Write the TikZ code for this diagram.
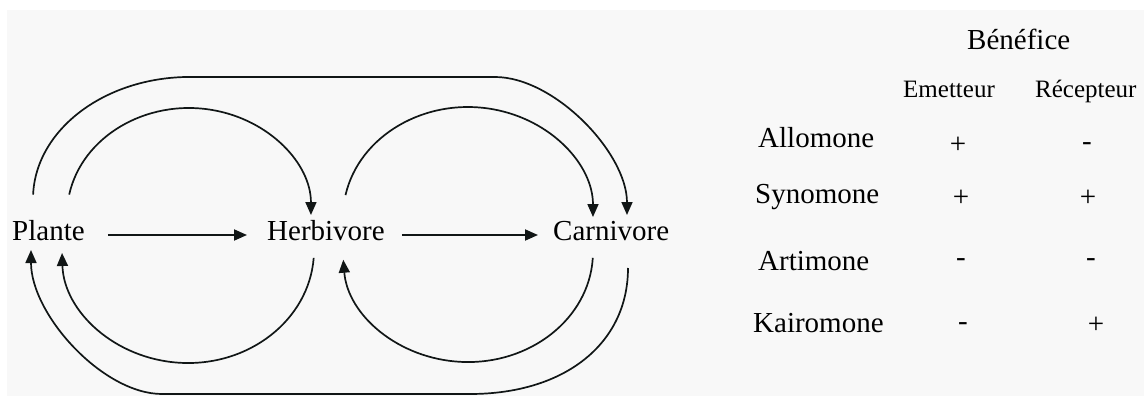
\documentclass[tikz,border=0pt]{standalone}
\usepackage{fontspec}
\setmainfont{Liberation Serif}
\usetikzlibrary{arrows.meta}
\definecolor{paper}{HTML}{F8F8F8}
\definecolor{ink}{HTML}{111616}
\begin{document}
\begin{tikzpicture}[x=1pt,y=-1pt,
  flow/.style={line width=1.9pt, draw=ink, -{Triangle[length=13pt,width=11pt]}},
  curve/.style={line width=1.7pt, draw=ink},
  organism/.style={anchor=base west, inner sep=0pt, text height=10pt, text depth=0pt,
    font=\fontsize{29}{32}\selectfont},
  rowlabel/.style={anchor=base west, inner sep=0pt, font=\fontsize{29}{32}\selectfont},
  colhead/.style={anchor=base west, inner sep=0pt, font=\fontsize{25}{28}\selectfont},
  sign/.style={inner sep=0pt, font=\fontsize{29}{32}\selectfont}]

% page and paper
\fill[white] (0,0) rectangle (1144,396);
\fill[paper] (7,10) rectangle (1144,396);
\useasboundingbox (0,0) rectangle (1144,396);

% trophic levels
\node[organism] (plante) at (12,240) {Plante};
\node[organism] (herb)   at (267,240) {Herbivore};
\node[organism] (carn)   at (553,240) {Carnivore};

\draw[flow, shorten <=23pt, shorten >=20pt] (plante) -- (herb);
\draw[flow, shorten <=17pt, shorten >=15pt] (herb) -- (carn);

% end points of the loops around the levels
\coordinate (pl-in-top)  at (69.2,194.6);
\coordinate (he-in-bot)  at (313.7,257.9);
\coordinate (he-in-top)  at (345.5,195.1);
\coordinate (ca-in-bot)  at (592.8,257.8);
\coordinate (pl-out-top) at (33.1,194.7);
\coordinate (ca-out-bot) at (628,268);

% plant <-> herbivore loops
\draw[flow, curve] (pl-in-top) arc[start angle=-169, end angle=0, x radius=122, y radius=107];
\draw[flow, curve] (he-in-bot) arc[start angle=4, end angle=178.5, x radius=126, y radius=113];

% herbivore <-> carnivore loops
\draw[flow, curve] (he-in-top) arc[start angle=-168.5, end angle=0, x radius=125, y radius=110];
\draw[flow, curve] (ca-in-bot) arc[start angle=3, end angle=176, x radius=125, y radius=110];

% plant <-> carnivore outer loops
\draw[flow, curve] (pl-out-top) arc[start angle=182, end angle=270, x radius=157, y radius=122]
  -- (495,77) .. controls (554.4,77) and (627,152.9) .. (627,215);
\draw[flow, curve] (ca-out-bot) .. controls (628,343.6) and (564.8,394) .. (470,394)
  -- (162,394) .. controls (103,394) and (31,314.8) .. (31,250);

% table of benefits
\node[rowlabel] (benefice) at (967,50) {Bénéfice};
\node[colhead]  (emetteur) at (903,97) {Emetteur};
\node[colhead]  (recepteur) at (1035,97) {Récepteur};

\node[rowlabel] (allomone)  at (758,147) {Allomone};
\node[rowlabel] (synomone)  at (755,203) {Synomone};
\node[rowlabel] (artimone)  at (758,270) {Artimone};
\node[rowlabel] (kairomone) at (753,332) {Kairomone};

\node[sign] (al-e) at (958,145) {+};
\node[sign] (al-r) at (1087,147) {-};
\node[sign] (sy-e) at (961,198) {+};
\node[sign] (sy-r) at (1088,198) {+};
\node[sign] (ar-e) at (961,263) {-};
\node[sign] (ar-r) at (1091,263) {-};
\node[sign] (ka-e) at (963,327) {-};
\node[sign] (ka-r) at (1096,325) {+};
\end{tikzpicture}
\end{document}
